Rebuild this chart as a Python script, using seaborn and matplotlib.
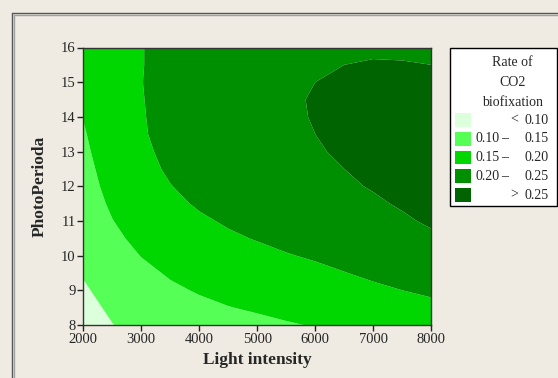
"""Contour plot of CO2 biofixation rate vs light intensity and photoperiod."""
import matplotlib
matplotlib.use("Agg")
import matplotlib.pyplot as plt
from matplotlib.lines import Line2D
from matplotlib.patches import Rectangle
import numpy as np
import seaborn as sns

# grid: light intensity (columns) x photoperiod (rows)
light = [2000, 2500, 3000, 3500, 4000, 4500, 5000, 5500, 6000, 6500, 7000, 7500, 8000]
photo = [8, 8.5, 9, 9.5, 10, 10.5, 11, 11.5, 12, 12.5, 13, 13.5, 14, 14.5, 15, 15.5, 16]
# rate of CO2 biofixation, one row per photoperiod (8 -> 16)
rate = [
    [.080, .099, .114, .124, .131, .137, .142, .147, .152, .157, .163, .168, .173],
    [.087, .107, .122, .133, .142, .149, .154, .160, .166, .172, .178, .184, .190],
    [.095, .115, .132, .144, .153, .160, .167, .173, .179, .186, .193, .200, .207],
    [.103, .124, .141, .154, .164, .172, .179, .186, .192, .199, .207, .214, .221],
    [.110, .133, .151, .165, .175, .184, .191, .198, .204, .212, .219, .227, .234],
    [.117, .141, .161, .175, .186, .195, .202, .209, .215, .222, .230, .237, .245],
    [.123, .149, .169, .184, .195, .204, .212, .218, .225, .232, .239, .246, .254],
    [.129, .156, .177, .192, .204, .213, .220, .227, .233, .240, .246, .253, .260],
    [.134, .162, .183, .199, .211, .220, .227, .233, .239, .246, .252, .258, .265],
    [.138, .167, .189, .205, .217, .226, .233, .239, .244, .250, .256, .261, .267],
    [.143, .170, .193, .209, .222, .230, .237, .243, .248, .253, .258, .263, .268],
    [.147, .172, .196, .213, .225, .234, .240, .245, .250, .254, .258, .262, .266],
    [.151, .173, .197, .215, .227, .236, .242, .247, .251, .254, .257, .260, .263],
    [.154, .173, .198, .216, .229, .238, .243, .248, .251, .253, .255, .258, .260],
    [.156, .173, .199, .217, .230, .238, .244, .248, .250, .252, .253, .254, .255],
    [.158, .172, .198, .218, .231, .239, .245, .248, .249, .250, .251, .251, .250],
    [.159, .171, .198, .218, .232, .240, .246, .248, .249, .249, .248, .247, .246],
]
levels = [0, 0.10, 0.15, 0.20, 0.25, 1.0]
legend_labels = [('<', '0.10'), ('0.10', '0.15'), ('0.15', '0.20'),
                 ('0.20', '0.25'), ('>', '0.25')]
colors = ['#DCFFDC', '#55FF55', '#00D700', '#008F00', '#006400']

sns.set_style('white')
plt.rcParams['font.family'] = ['Liberation Serif', 'DejaVu Serif']
bg = '#EFEBE2'

W, H = 558, 378
fig = plt.figure(figsize=(W / 100, H / 100), dpi=100, facecolor=bg)
ax = fig.add_axes([83.3 / W, 1 - 325 / H, 348 / W, 277.5 / H])

ax.contourf(light, photo, np.array(rate), levels=levels, colors=colors,
            antialiased=True)
ax.set_xlim(2000, 8000)
ax.set_ylim(8, 16)
ax.set_xticks(range(2000, 8001, 1000))
ax.set_yticks(range(8, 17))
ax.tick_params(direction='out', length=4, width=1, color='#222222',
               labelsize=10.5, pad=1.5, left=True, bottom=True)
for s in ax.spines.values():
    s.set_color('#333333')
    s.set_linewidth(1)

ax.set_xlabel('Light intensity', fontsize=12.5, fontweight='bold')
ax.xaxis.label.set_va('center')
ax.xaxis.set_label_coords(0.5, (325 - 360) / 277.5)
ax.set_ylabel('PhotoPerioda', fontsize=12.5, fontweight='bold')
ax.yaxis.label.set_va('center')
ax.yaxis.set_label_coords((40 - 83.3) / 348, 0.5)

# outer window frame
fx = lambda px: px / W
fy = lambda py: 1 - py / H
for off, c in [(11.5, '#555555'), (13.5, '#A0A0A0')]:
    fig.add_artist(Line2D([fx(off), fx(off)], [fy(off + 1), 0], color=c, lw=1))
    fig.add_artist(Line2D([fx(off), 1], [fy(off + 1), fy(off + 1)], color=c, lw=1))

# legend box
fig.add_artist(Rectangle((fx(449.5), fy(206)), (556.5 - 449.5) / W, (206 - 47.5) / H,
                         transform=fig.transFigure, facecolor='white',
                         edgecolor='black', lw=1))
for i, t in enumerate(['Rate of', 'CO2', 'biofixation']):
    fig.text(fx(512.5), fy(62 + 20 * i), t, ha='center', va='center', fontsize=10)
for i, ((a, b), c) in enumerate(zip(legend_labels, colors)):
    yc = 120 + 18.75 * i
    fig.add_artist(Rectangle((fx(455), fy(yc + 7)), 15.5 / W, 14 / H,
                             transform=fig.transFigure, facecolor=c, lw=0))
    if a in '<>':
        fig.text(fx(514), fy(yc), a, ha='center', va='center', fontsize=10)
    else:
        fig.text(fx(476), fy(yc), a, ha='left', va='center', fontsize=10)
        fig.text(fx(504.5), fy(yc), '\u2013', ha='center', va='center', fontsize=10)
    fig.text(fx(548.5), fy(yc), b, ha='right', va='center', fontsize=10)

fig.savefig('out.png', dpi=100, facecolor=bg)
